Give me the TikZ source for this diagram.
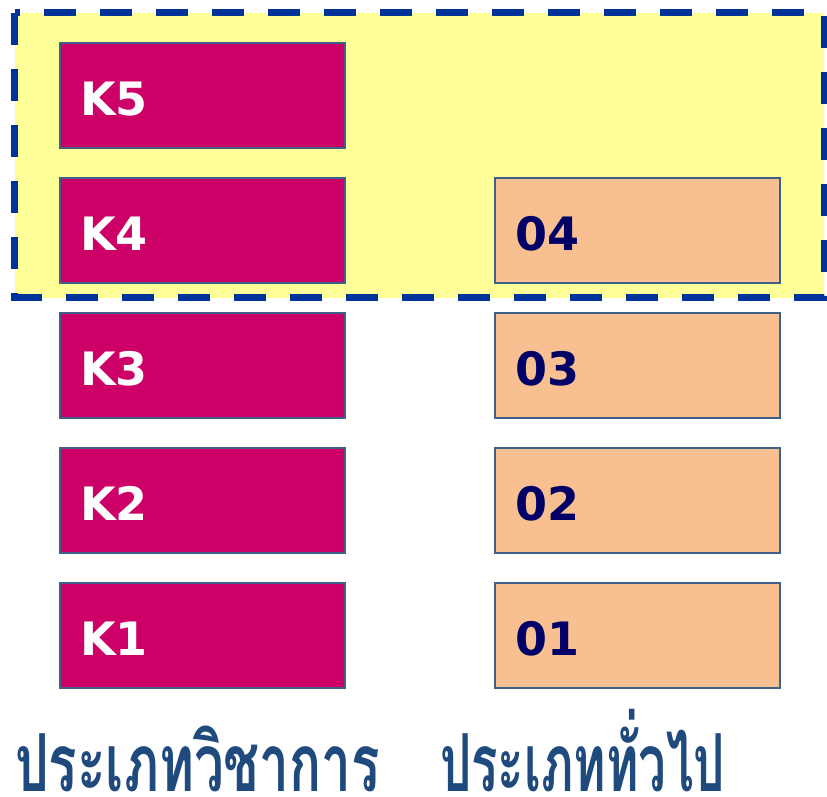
\documentclass[tikz,border=0pt]{standalone}
\usepackage{fontspec}
\usepackage{graphicx}
\setmainfont{DejaVu Sans}
\newfontfamily\thaifont[Script=Thai]{Loma}
\definecolor{kpink}{HTML}{CC0066}
\definecolor{opeach}{HTML}{F8C090}
\definecolor{zoneyellow}{HTML}{FFFF99}
\definecolor{zoneblue}{HTML}{003399}
\definecolor{boxedge}{HTML}{3F6089}
\definecolor{digitnavy}{HTML}{000066}
\definecolor{labelblue}{HTML}{1F4A7D}
\tikzset{
  levelbox/.style={rectangle, draw=boxedge, line width=2pt,
    minimum width=285pt, minimum height=105pt,
    text width=245pt, inner xsep=20pt, align=left,
    text height=40pt, text depth=0pt,
    font=\fontsize{46}{50}\selectfont\bfseries},
  kbox/.style={levelbox, fill=kpink, text=white},
  obox/.style={levelbox, fill=opeach, text=digitnavy},
  typelabel/.style={anchor=base west, inner sep=0pt, text=labelblue,
    font=\fontsize{80}{90}\thaifont\bfseries}
}
\begin{document}
\begin{tikzpicture}[x=1pt,y=1pt]
\useasboundingbox (0,0) rectangle (827,797);
% highlighted zone behind the two top rows
\fill[zoneyellow] (14.5,784) rectangle (824,499);
\draw[zoneblue, line width=7pt, dash pattern=on 32pt off 24pt]
  (14.5,784) rectangle (824,499);
% academic column
\node[kbox] (k5) at (202.5,701.5) {K5};
\node[kbox] (k4) at (202.5,566.5) {K4};
\node[kbox] (k3) at (202.5,431.5) {K3};
\node[kbox] (k2) at (202.5,296.5) {K2};
\node[kbox] (k1) at (202.5,161.5) {K1};
% general column
\node[obox] (o4) at (637.5,566.5) {04};
\node[obox] (o3) at (637.5,431.5) {03};
\node[obox] (o2) at (637.5,296.5) {02};
\node[obox] (o1) at (637.5,161.5) {01};
% column captions, narrowed to their column widths
\node[typelabel] (acad) at (15,5) {\resizebox{365pt}{\height}{ประเภทวิชาการ}};
\node[typelabel] (gen) at (440,5) {\resizebox{285pt}{\height}{ประเภททั่วไป}};
\end{tikzpicture}
\end{document}
